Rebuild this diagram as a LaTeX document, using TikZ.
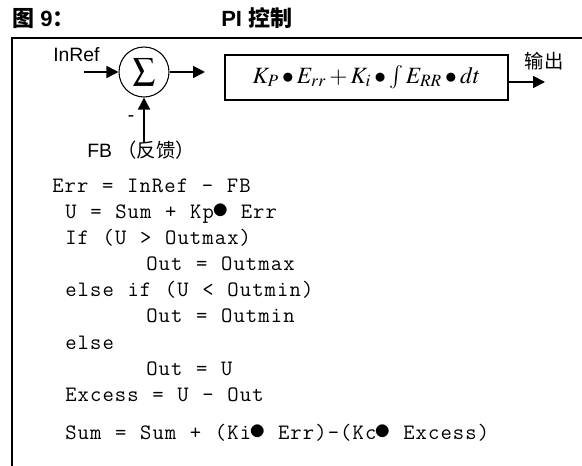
\documentclass[tikz,border=0pt]{standalone}
\usepackage{mathptmx}
\usepackage[no-math]{fontspec}
\setmainfont{Liberation Sans}
\setmonofont{Latin Modern Mono}[LetterSpace=5,WordSpace=1.1]
\newfontfamily\cjk{Noto Sans CJK SC}
\usetikzlibrary{arrows.meta}

\tikzset{
  sig/.style={line width=1.2pt,-{Triangle[length=9pt,width=9pt]}},
  frame/.style={line width=1.5pt},
  code/.style={anchor=base west,inner sep=0pt,font=\fontsize{16.5}{18}\selectfont\ttfamily},
  lbl/.style={inner sep=0pt,font=\fontsize{14.5}{16}\selectfont},
  head/.style={anchor=base west,inner sep=0pt,font=\fontsize{16.5}{18}\selectfont\bfseries},
}
% fat dot used as multiply sign in the listing
\newcommand{\blt}{\makebox[0.6em]{\scalebox{1.5}{$\bullet$}}}

\begin{document}
\begin{tikzpicture}[x=0.75pt,y=0.75pt,yscale=-1,xscale=1]
\useasboundingbox (0,0) rectangle (582,466);

% Title
\node (fig) [head] at (12,27) {{\cjk 图} 9{\cjk ：}};
\node (title) [head] at (221,27) {PI {\cjk 控制}};

% Frame
\draw [frame] (582,38) -- (12,38) -- (12,466);

% Summing junction
\node (sum) [circle,draw,line width=0.8pt,minimum size=37.5pt,inner sep=0pt] at (144,72) {\fontsize{24}{24}\selectfont$\sum$};
\coordinate (in) at (84,72);
\coordinate (fbin) at (144,142);
\coordinate (mid) at (205,72);
\draw [sig] (in) -- (sum.west);
\draw [sig] (fbin) -- (sum.south);
\draw [sig] (sum.east) -- (mid);

% Text Node
\node (inref) [lbl,anchor=base west] at (53,62) {InRef};
% Text Node
\node (minus) [lbl] at (131,119) {-};
% Text Node
\node (fb) [lbl,anchor=base west] at (87,158) {FB {\cjk （反馈）}};

% PI block
\node (pi) [draw,line width=1pt,minimum width=212.25pt,minimum height=33.75pt,inner sep=0pt,font=\fontsize{17.5}{20}\selectfont] at (366.5,77.5) {$K_P\bullet E_{rr}+K_i\bullet\int E_{RR}\bullet dt$};
\coordinate (outtip) at (545,82);
\draw [sig] (pi.east |- outtip) -- (outtip);
% Text Node
\node (out) [lbl] at (544,61) {\cjk 输出};

% Listing
\node (l1) [code] at (52,193) {Err = InRef - FB};
\node (l2) [code] at (65,219) {U = Sum + Kp\blt{} Err};
\node (l3) [code] at (65,245) {If (U > Outmax)};
\node (l4) [code] at (146,271) {Out = Outmax};
\node (l5) [code] at (65,297) {else if (U < Outmin)};
\node (l6) [code] at (146,323) {Out = Outmin};
\node (l7) [code] at (65,350) {else};
\node (l8) [code] at (146,376) {Out = U};
\node (l9) [code] at (65,402) {Excess = U - Out};
\node (l10) [code] at (65,440) {Sum = Sum + (Ki\blt{} Err)-(Kc\blt{} Excess)};

\end{tikzpicture}
\end{document}
